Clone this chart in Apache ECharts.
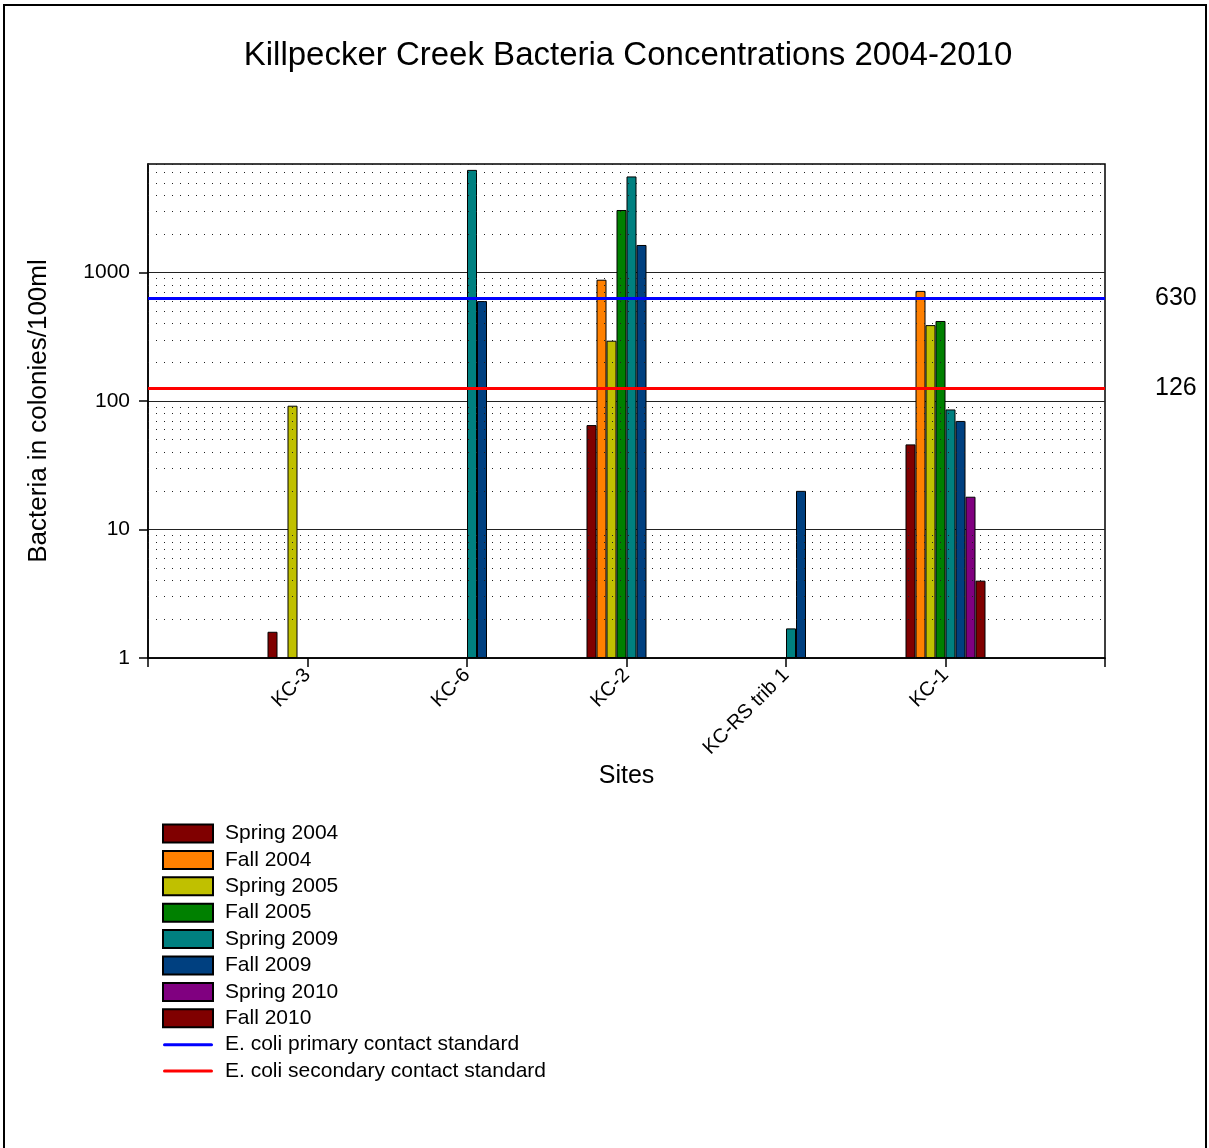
<!DOCTYPE html>
<html>
<head>
<meta charset="utf-8">
<title>Killpecker Creek Bacteria Concentrations 2004-2010</title>
<script src="https://cdn.jsdelivr.net/npm/echarts@6/dist/echarts.min.js"></script>
<style>
  html, body { margin: 0; padding: 0; background: #fff; }
  #chart { width: 1209px; height: 1148px; }
</style>
</head>
<body>
<div id="chart"></div>
<script>
// Sampling sites (blank slots at both ends keep the sites off the plot edges)
const sites = ['', 'KC-3', 'KC-6', 'KC-2', 'KC-RS trib 1', 'KC-1', ''];

// E. coli counts, colonies/100ml, per sampling event
const spring2004 = [null, 1.6, null, 65, null, 46, null];
const fall2004   = [null, null, null, 880, null, 720, null];
const spring2005 = [null, 92, null, 295, null, 390, null];
const fall2005   = [null, null, null, 3070, null, 420, null];
const spring2009 = [null, null, 6300, 5600, 1.7, 86, null];
const fall2009   = [null, null, 600, 1640, 20, 70, null];
const spring2010 = [null, null, null, null, null, 18, null];
const fall2010   = [null, null, null, null, null, 4, null];

// Water quality standards
const primaryStandard = 630;
const secondaryStandard = 126;

// Y axis
const yTickValues = [1, 10, 100, 1000];
const yMax = 7000;

const FONT = "'Liberation Sans', Arial, sans-serif";

const barSeriesDefs = [
  { name: 'Spring 2004', data: spring2004, color: '#800000' },
  { name: 'Fall 2004',   data: fall2004,   color: '#FF8000' },
  { name: 'Spring 2005', data: spring2005, color: '#C0C000' },
  { name: 'Fall 2005',   data: fall2005,   color: '#008000' },
  { name: 'Spring 2009', data: spring2009, color: '#008080' },
  { name: 'Fall 2009',   data: fall2009,   color: '#004080' },
  { name: 'Spring 2010', data: spring2010, color: '#800080' },
  { name: 'Fall 2010',   data: fall2010,   color: '#800000' }
];

// Dotted minor gridlines at 2..9 of every decade
const minorGrid = [];
yTickValues.forEach(function (d) {
  for (let m = 2; m <= 9; m++) {
    if (d * m <= yMax) minorGrid.push({ yAxis: d * m });
  }
});

const series = [];

series.push({
  name: 'minor-grid',
  type: 'line',
  data: [],
  z: 1,
  silent: true,
  markLine: {
    silent: true,
    symbol: ['none', 'none'],
    animation: false,
    label: { show: false },
    lineStyle: { type: [1, 7], color: '#222', width: 1 },
    emphasis: { disabled: true },
    data: minorGrid
  }
});

barSeriesDefs.forEach(function (s) {
  series.push({
    name: s.name,
    type: 'bar',
    data: s.data,
    barWidth: 10,
    barGap: '0%',
    z: 2,
    itemStyle: { color: s.color, borderColor: '#000', borderWidth: 1 }
  });
});

function standardSeries(name, value, color) {
  return {
    name: name,
    type: 'line',
    data: [],
    symbol: 'none',
    z: 5,
    color: color,
    lineStyle: { color: color, width: 3 },
    markLine: {
      silent: true,
      symbol: ['none', 'none'],
      animation: false,
      lineStyle: { color: color, width: 3, type: 'solid' },
      label: {
        show: true,
        position: 'end',
        distance: 50,
        formatter: String(value),
        color: '#000',
        fontSize: 25,
        fontFamily: FONT
      },
      data: [{ yAxis: value }]
    }
  };
}

series.push(standardSeries('E. coli primary contact standard', primaryStandard, '#0000FF'));
series.push(standardSeries('E. coli secondary contact standard', secondaryStandard, '#FF0000'));

// Legend key for the standards: a thick rounded stroke centred in the 50x18 key box
const lineKey = 'path://M0,0 M1.5,7.5 L48.5,7.5 A1.5,1.5 0 0 1 48.5,10.5 L1.5,10.5 A1.5,1.5 0 0 1 1.5,7.5 Z M50,18';

const legendNames = barSeriesDefs.map(function (s) { return { name: s.name, icon: 'rect' }; })
  .concat([
    { name: 'E. coli primary contact standard', icon: lineKey, itemStyle: { borderWidth: 0 } },
    { name: 'E. coli secondary contact standard', icon: lineKey, itemStyle: { borderWidth: 0 } }
  ]);

const option = {
  animation: false,
  backgroundColor: '#fff',
  textStyle: { fontFamily: FONT, color: '#000' },
  title: {
    text: 'Killpecker Creek Bacteria Concentrations 2004-2010',
    left: 628,
    textAlign: 'center',
    top: 39,
    padding: 0,
    textStyle: { fontFamily: FONT, fontSize: 33, fontWeight: 'normal', color: '#000' }
  },
  graphic: [{
    type: 'rect',
    shape: { x: 4, y: 5, width: 1202, height: 1170 },
    style: { fill: 'none', stroke: '#000', lineWidth: 2 },
    silent: true,
    z: 100
  }],
  legend: {
    orient: 'vertical',
    left: 162,
    top: 823,
    padding: 0,
    itemWidth: 50,
    itemHeight: 18,
    itemGap: 5.4,
    selectedMode: false,
    textStyle: { fontFamily: FONT, fontSize: 21, color: '#000', padding: [0, 0, 0, 7] },
    data: legendNames
  },
  grid: {
    left: 148,
    top: 164,
    width: 957,
    height: 494,
    show: true,
    borderColor: '#000',
    borderWidth: 1.5,
    containLabel: false
  },
  xAxis: {
    type: 'category',
    data: sites,
    boundaryGap: false,
    name: 'Sites',
    nameLocation: 'middle',
    nameGap: 106,
    nameTextStyle: { fontFamily: FONT, fontSize: 25, color: '#000' },
    axisLine: { lineStyle: { color: '#000', width: 1.5 } },
    axisTick: { show: true, length: 9, lineStyle: { color: '#000', width: 1.5 } },
    axisLabel: {
      interval: 0,
      rotate: 45,
      margin: 14,
      fontFamily: FONT,
      fontSize: 20,
      color: '#000'
    },
    splitLine: { show: false }
  },
  yAxis: {
    type: 'log',
    logBase: 10,
    min: 1,
    max: yMax,
    name: 'Bacteria in colonies/100ml',
    nameLocation: 'middle',
    nameRotate: 90,
    nameGap: 96,
    nameTextStyle: { fontFamily: FONT, fontSize: 26, color: '#000' },
    axisLine: { show: true, lineStyle: { color: '#000', width: 1.5 } },
    axisTick: { show: true, length: 9, customValues: yTickValues, lineStyle: { color: '#000', width: 1.5 } },
    axisLabel: {
      customValues: yTickValues,
      margin: 18,
      fontFamily: FONT,
      fontSize: 21,
      color: '#000',
      formatter: function (v) { return String(Math.round(v)); }
    },
    splitLine: { show: true, lineStyle: { color: '#222', width: 1 } },
    minorTick: { show: false },
    minorSplitLine: { show: false }
  },
  series: series
};

const chart = echarts.init(document.getElementById('chart'), null, { renderer: 'canvas' });
chart.setOption(option);
</script>
</body>
</html>
